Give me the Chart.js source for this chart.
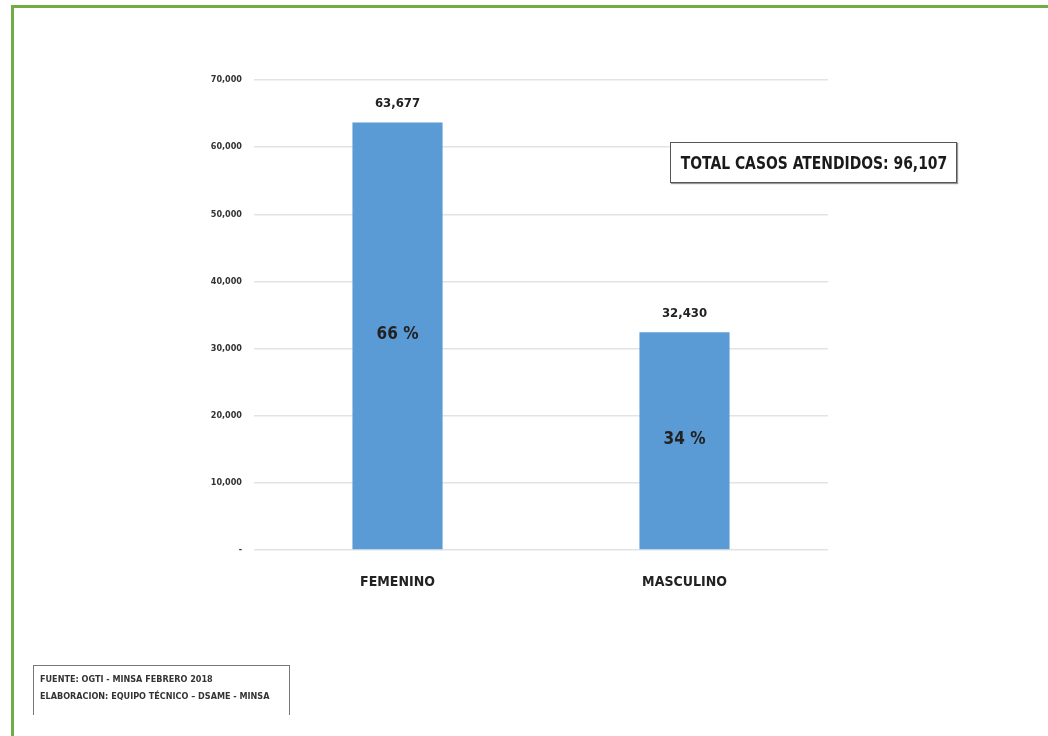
<!DOCTYPE html>
<html>
<head>
<meta charset="utf-8">
<script src="https://cdn.jsdelivr.net/npm/chart.js@4/dist/chart.umd.min.js"></script>
<style>
  html, body { margin: 0; padding: 0; background: #fff; }
  body { width: 1048px; height: 736px; position: relative; overflow: hidden;
         font-family: 'Liberation Sans Narrow', 'DejaVu Sans Condensed', 'Open Sans', sans-serif; }
  #frame { position: absolute; left: 11px; top: 5px; width: 1050px; height: 760px;
           border-left: 3px solid #70ad47; border-top: 3px solid #70ad47; }
  #wrap { position: absolute; left: 0; top: 0; width: 1048px; height: 736px; }
  #total { position: absolute; left: 670px; top: 142px; width: 285px; height: 39px;
           border: 1px solid #555; box-shadow: 1px 1px 1px #999; background: #fff;
           font-weight: bold; font-size: 18px; color: #1a1a1a; line-height: 39px;
           white-space: nowrap; overflow: hidden; }
  #total span { position: absolute; left: 50%; top: 0;
                transform: translateX(-50%) scaleX(0.86); }
  #source { position: absolute; left: 33px; top: 665px; width: 257px; height: 50px;
            border: 1px solid #777; border-bottom: none; font-weight: bold; font-size: 9px;
            color: #333; padding: 5px 0 0 6px; box-sizing: border-box; line-height: 17px; }
</style>
</head>
<body>
<div id="frame"></div>
<div id="wrap"><canvas id="myChart" width="1048" height="736"></canvas></div>
<div id="total"><span id="totalText"></span></div>
<div id="source">FUENTE: OGTI - MINSA FEBRERO 2018<br>ELABORACION: EQUIPO TÉCNICO – DSAME - MINSA</div>
<script>
// data
const categories = ['FEMENINO', 'MASCULINO'];
const casos = [63677, 32430];
const yTicks = [0, 10000, 20000, 30000, 40000, 50000, 60000, 70000];

const total = casos.reduce((a, b) => a + b, 0);
document.getElementById('totalText').textContent = 'TOTAL CASOS ATENDIDOS: ' + total.toLocaleString('en-US');

const fontFam = "'Liberation Sans Narrow', 'DejaVu Sans Condensed', 'Open Sans', sans-serif";

// labels on bars
const barLabels = {
  id: 'barLabels',
  afterDatasetsDraw(chart) {
    const ctx = chart.ctx;
    const meta = chart.getDatasetMeta(0);
    ctx.save();
    ctx.fillStyle = '#222';
    ctx.textAlign = 'center';
    meta.data.forEach((bar, i) => {
      ctx.font = 'bold 13px ' + fontFam;
      ctx.textBaseline = 'bottom';
      ctx.fillText(casos[i].toLocaleString('en-US'), bar.x, bar.y - 12);
      ctx.font = 'bold 17px ' + fontFam;
      ctx.textBaseline = 'middle';
      let pct = Math.round(casos[i] / total * 100);
      ctx.fillText(pct + ' %', bar.x, (bar.y + bar.base) / 2 - 1);
    });
    ctx.restore();
  }
};

const ctx = document.getElementById('myChart');
const myChart = new Chart(ctx, {
  type: 'bar',
  data: {
    labels: categories,
    datasets: [{
      data: casos,
      backgroundColor: '#5b9bd5',
      borderWidth: 0,
      barPercentage: 0.314,
      categoryPercentage: 1
    }]
  },
  options: {
    responsive: false,
    animation: false,
    layout: { padding: { left: 0, right: 220, top: 80, bottom: 0 } },
    plugins: { legend: { display: false }, tooltip: { enabled: false } },
    scales: {
      x: {
        grid: { display: false },
        border: { display: false },
        ticks: { color: '#222', padding: 16, font: { family: fontFam, size: 14, weight: 'bold' } },
        afterFit(scale) { scale.height = 186; }
      },
      y: {
        min: 0, max: 70000,
        afterBuildTicks(scale) { scale.ticks = yTicks.map(v => ({ value: v })); },
        grid: { color: '#e3e3e3', lineWidth: 1.5, drawTicks: false },
        border: { display: false },
        ticks: {
          color: '#333', padding: 12,
          font: { family: fontFam, size: 9, weight: 'bold' },
          callback: v => v === 0 ? '-' : v.toLocaleString('en-US')
        },
        afterFit(scale) { scale.width = 254; }
      }
    }
  },
  plugins: [barLabels]
});
</script>
</body>
</html>
